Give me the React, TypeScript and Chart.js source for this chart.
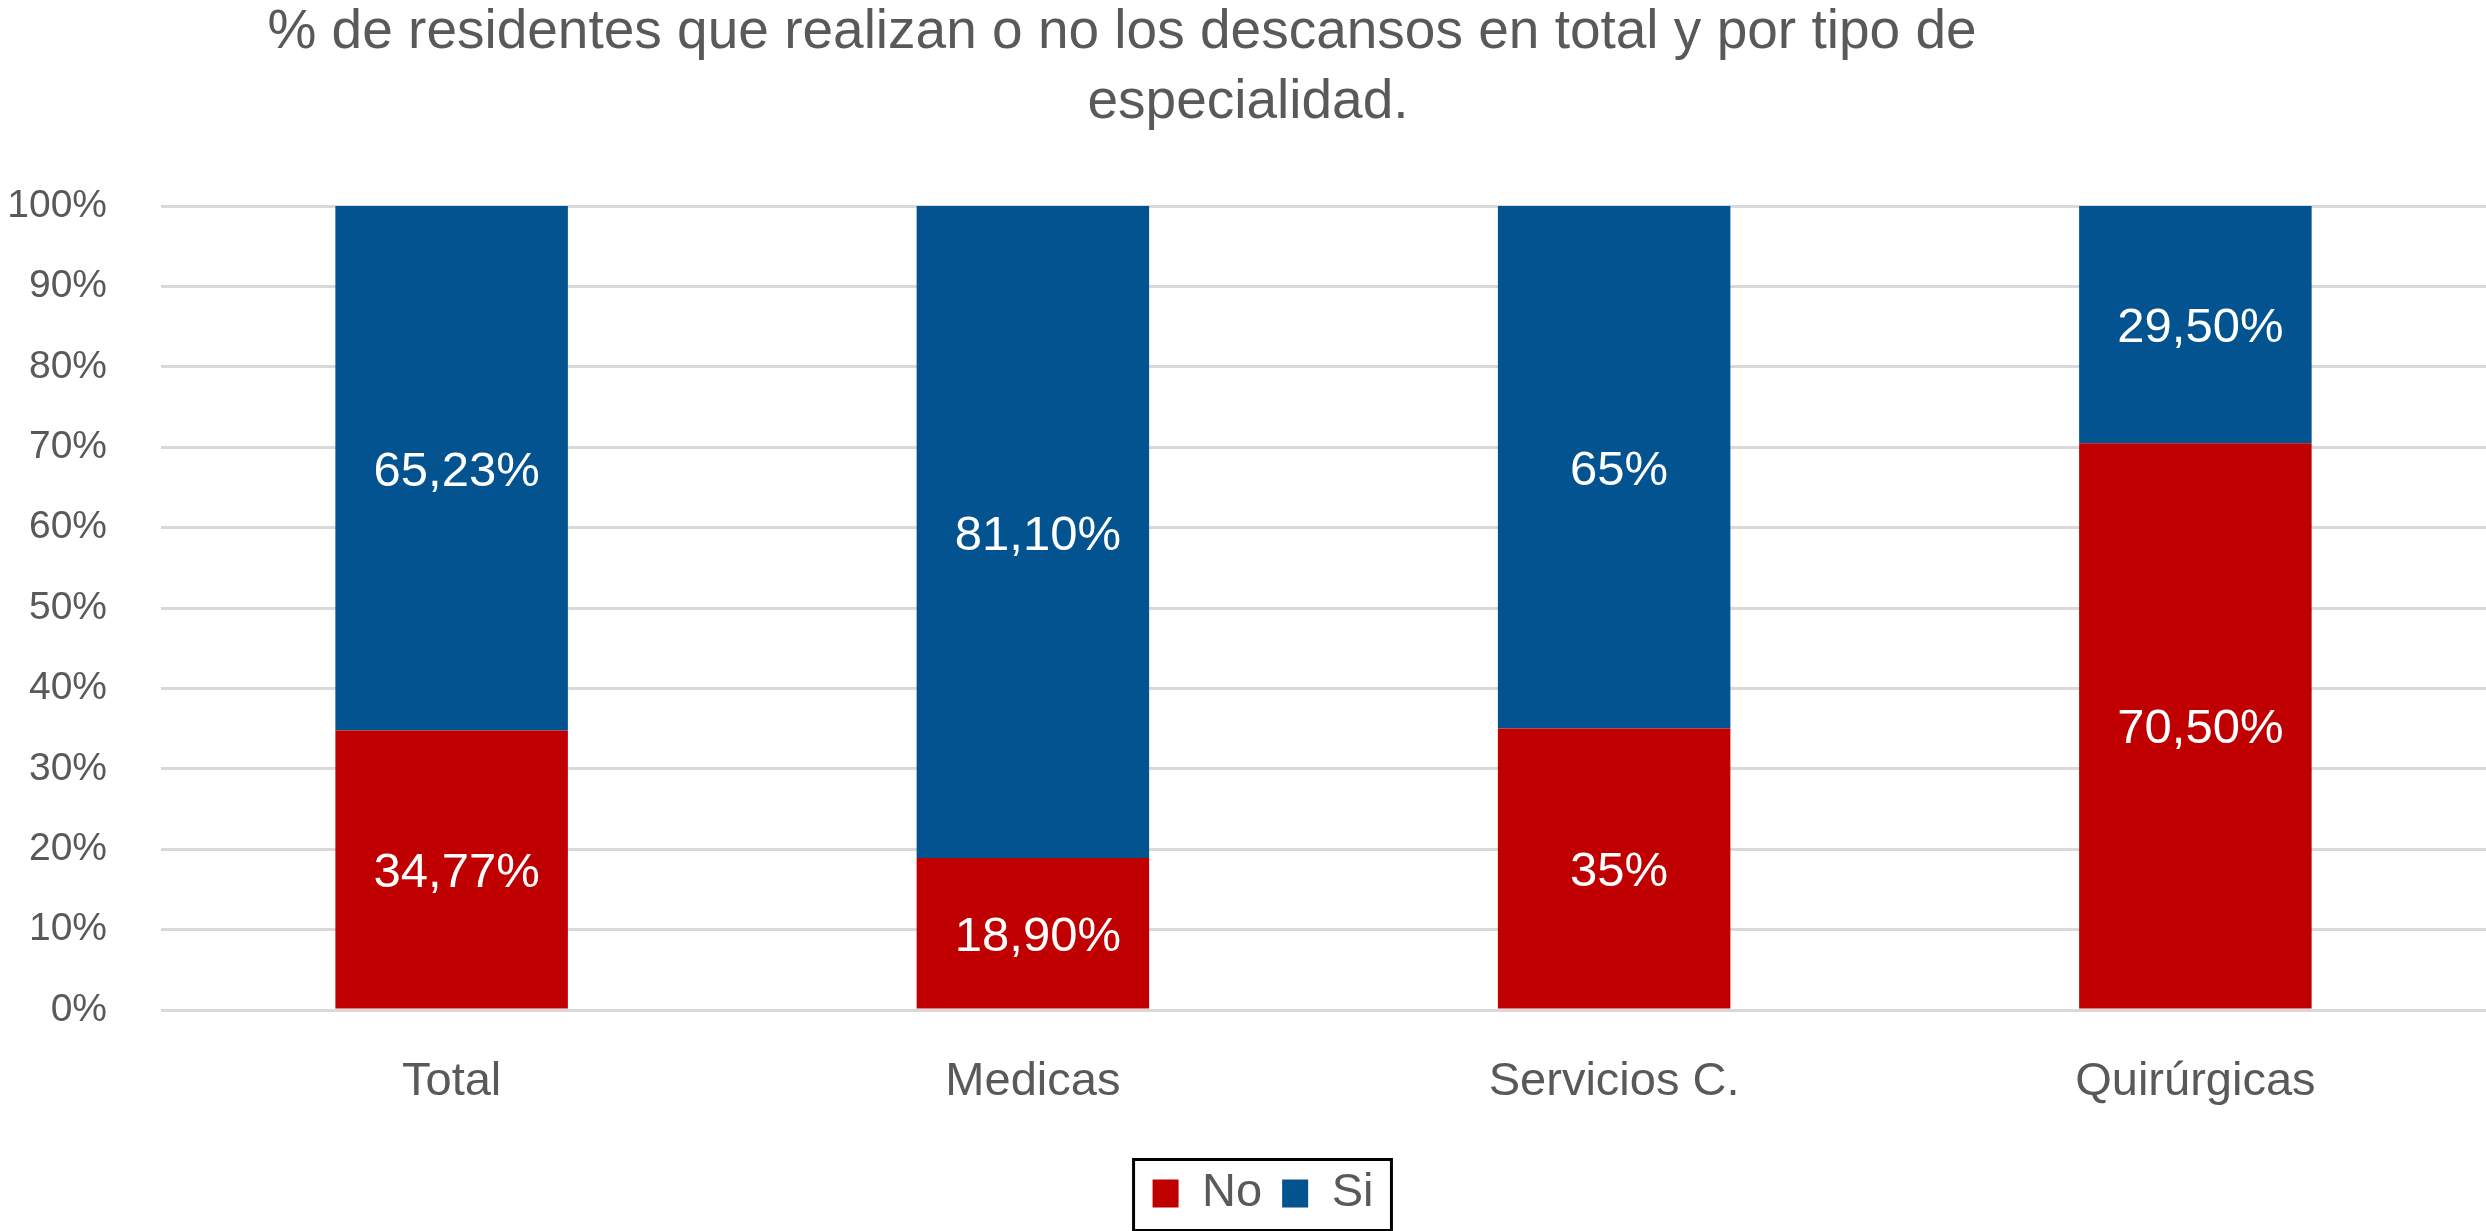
import React, { useEffect, useRef } from "react";
import { Chart, registerables, ChartConfiguration, Plugin } from "chart.js";

Chart.register(...registerables);

const TITLE_LINES = [
  "% de residentes que realizan o no los descansos en total y por tipo de",
  "especialidad.",
];
const CATEGORIES = ["Total", "Medicas", "Servicios C.", "Quirúrgicas"];
const SERIES_NAMES = ["No", "Si"];
const NO_VALUES = [34.77, 18.9, 35, 70.5];
const SI_VALUES = [65.23, 81.1, 65, 29.5];
const NO_LABELS = ["34,77%", "18,90%", "35%", "70,50%"];
const SI_LABELS = ["65,23%", "81,10%", "65%", "29,50%"];

const RED = "#C00000";
const BLUE = "#02538F";
const GREY_TEXT = "#595959";
const FONT = "'Liberation Sans', Arial, Helvetica, sans-serif";

const W = 2486;
const H = 1231;

// white % text in the middle of every stacked segment
const segmentLabels: Plugin<"bar"> = {
  id: "segmentLabels",
  afterDatasetsDraw(chart) {
    const ctx = chart.ctx;
    const texts = [NO_LABELS, SI_LABELS];
    const size = 49;
    ctx.save();
    ctx.font = `${size}px ${FONT}`;
    ctx.fillStyle = "#ffffff";
    ctx.textAlign = "center";
    ctx.textBaseline = "alphabetic";
    chart.data.datasets.forEach((_, di) => {
      const meta = chart.getDatasetMeta(di);
      meta.data.forEach((el: any, i) => {
        const { x, y, base } = el.getProps(["x", "y", "base"], true);
        // digits are ~0.716em tall, so drop the baseline by half of that
        ctx.fillText(texts[di][i], x + 5, (y + base) / 2 + size * 0.358);
      });
    });
    ctx.restore();
  },
};

// nudge the legend a bit to the right, like the original
const legendShift: Plugin<"bar"> = {
  id: "legendShift",
  afterLayout(chart) {
    const legend: any = chart.legend;
    if (!legend) return;
    legend.left += 20;
    legend.right += 20;
  },
};

// black frame around the legend, as in the original
const legendFrame: Plugin<"bar"> = {
  id: "legendFrame",
  afterDraw(chart) {
    const legend: any = chart.legend;
    const boxes = legend?.legendHitBoxes;
    if (!boxes || !boxes.length) return;
    const left = Math.min(...boxes.map((b: any) => b.left)) - 19;
    const right = Math.max(...boxes.map((b: any) => b.left + b.width)) + 18;
    const cy = boxes[0].top + boxes[0].height / 2;
    const ctx = chart.ctx;
    ctx.save();
    ctx.strokeStyle = "#000000";
    ctx.lineWidth = 3;
    ctx.strokeRect(left, cy - 34, right - left, 71);
    ctx.restore();
  },
};

export default function App() {
  const canvasRef = useRef<HTMLCanvasElement | null>(null);

  useEffect(() => {
    if (!canvasRef.current) return;

    const config: ChartConfiguration<"bar"> = {
      type: "bar",
      data: {
        labels: CATEGORIES,
        datasets: [
          {
            label: SERIES_NAMES[0],
            data: NO_VALUES,
            backgroundColor: RED,
            borderWidth: 0,
            barPercentage: 0.4,
            categoryPercentage: 1,
          },
          {
            label: SERIES_NAMES[1],
            data: SI_VALUES,
            backgroundColor: BLUE,
            borderWidth: 0,
            barPercentage: 0.4,
            categoryPercentage: 1,
          },
        ],
      },
      options: {
        animation: false,
        responsive: true,
        maintainAspectRatio: false,
        layout: { padding: { top: 206, left: 0, right: 0, bottom: 4 } },
        plugins: {
          title: { display: false },
          tooltip: { enabled: false },
          legend: {
            display: true,
            position: "bottom",
            labels: {
              font: { family: FONT, size: 47 },
              color: GREY_TEXT,
              boxWidth: 26,
              boxHeight: 28,
              padding: 20,
            },
          },
        },
        scales: {
          x: {
            stacked: true,
            grid: { display: false },
            border: { display: false },
            ticks: {
              font: { family: FONT, size: 47 },
              color: GREY_TEXT,
              padding: 36,
              maxRotation: 0,
            },
            afterFit: (s) => {
              s.height = 140;
            },
          },
          y: {
            stacked: true,
            min: 0,
            max: 100,
            grid: { color: "#D9D9D9", lineWidth: 3, drawTicks: false },
            border: { display: false },
            ticks: {
              stepSize: 10,
              font: { family: FONT, size: 39 },
              color: GREY_TEXT,
              padding: 54,
              callback: (v) => `${v}%`,
            },
            afterFit: (s) => {
              s.width = 161;
            },
          },
        },
      },
      plugins: [segmentLabels, legendShift, legendFrame],
    };

    const chart = new Chart(canvasRef.current, config);
    return () => chart.destroy();
  }, []);

  const titleStyle: React.CSSProperties = {
    position: "absolute",
    left: 0,
    fontFamily: FONT,
    fontSize: 55,
    lineHeight: "70px",
    color: GREY_TEXT,
    textAlign: "center",
    whiteSpace: "nowrap",
  };

  return (
    <div
      style={{
        position: "absolute",
        left: 0,
        top: 0,
        width: W,
        height: H,
        background: "#ffffff",
        overflow: "hidden",
      }}
    >
      <div style={{ position: "absolute", left: 0, top: 0, width: W, height: H }}>
        <canvas ref={canvasRef} />
      </div>
      <div style={{ ...titleStyle, top: -6, width: 2244 }}>{TITLE_LINES[0]}</div>
      <div style={{ ...titleStyle, top: 64, width: 2496 }}>{TITLE_LINES[1]}</div>
    </div>
  );
}
